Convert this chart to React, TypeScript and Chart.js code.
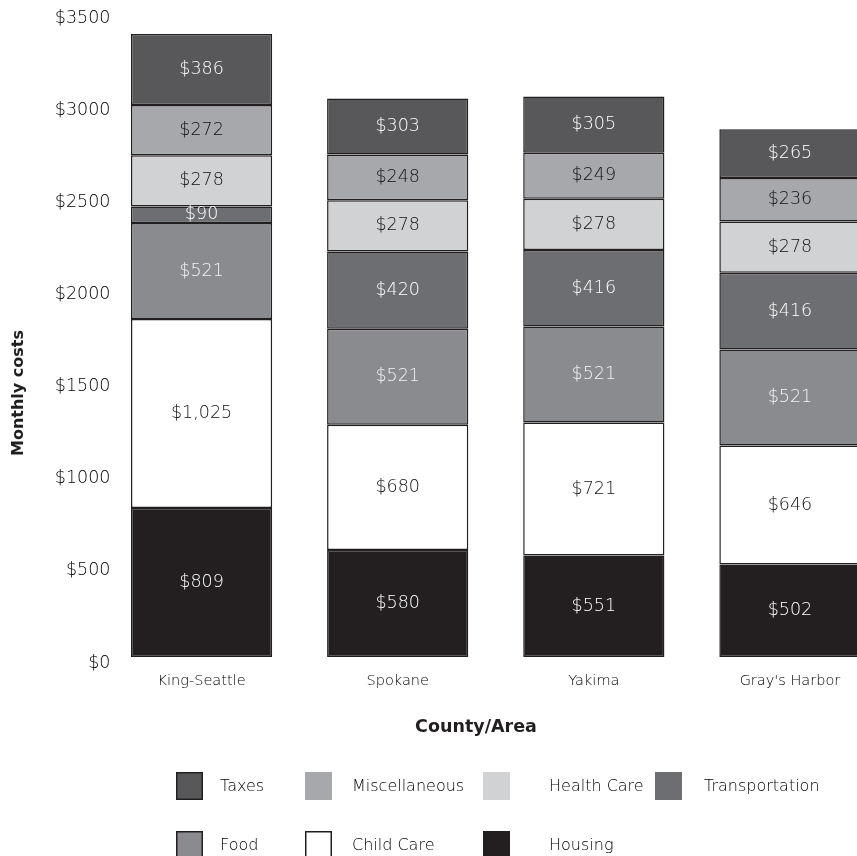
import React, { useEffect, useRef } from 'react';
import { Chart, registerables } from 'chart.js';

Chart.register(...registerables);

const categories = ['King-Seattle', 'Spokane', 'Yakima', "Gray's Harbor"];
const housing = [809, 580, 551, 502];
const childCare = [1025, 680, 721, 646];
const food = [521, 521, 521, 521];
const transportation = [90, 420, 416, 416];
const healthCare = [278, 278, 278, 278];
const miscellaneous = [272, 248, 249, 236];
const taxes = [386, 303, 305, 265];
const yMin = 0;
const yMax = 3500;
const yStep = 500;
const yTitle = 'Monthly costs';
const xTitle = 'County/Area';
const legendRow1 = ['Taxes', 'Miscellaneous', 'Health Care', 'Transportation'];
const legendRow2 = ['Food', 'Child Care', 'Housing'];

const FAMILY = '"DejaVu Sans", sans-serif';
const DARK = '#231f20';
const TEXT = '#000000';

const seriesDefs = [
  { label: 'Housing', data: housing, color: '#231f20', text: '#ffffff', legendBorder: false },
  { label: 'Child Care', data: childCare, color: '#ffffff', text: '#111111', legendBorder: true },
  { label: 'Food', data: food, color: '#8a8b8e', text: '#f4f4f5', legendBorder: true },
  { label: 'Transportation', data: transportation, color: '#6d6e71', text: '#ffffff', legendBorder: false },
  { label: 'Health Care', data: healthCare, color: '#d1d2d4', text: '#111111', legendBorder: false },
  { label: 'Miscellaneous', data: miscellaneous, color: '#a7a8ab', text: '#111111', legendBorder: false },
  { label: 'Taxes', data: taxes, color: '#58585a', text: '#ffffff', legendBorder: true },
];

export default function App() {
  const ref = useRef<HTMLCanvasElement | null>(null);

  useEffect(() => {
    if (!ref.current) return;

    const segLabels = {
      id: 'segLabels',
      afterDatasetsDraw(chart: any) {
        const ctx = chart.ctx;
        ctx.save();
        ctx.font = '200 17.5px ' + FAMILY;
        ctx.textAlign = 'center';
        ctx.textBaseline = 'middle';
        chart.data.datasets.forEach((ds: any, i: number) => {
          const meta = chart.getDatasetMeta(i);
          meta.data.forEach((el: any, j: number) => {
            const v = ds.data[j];
            const p = el.getProps(['x', 'y', 'base'], true);
            ctx.fillStyle = seriesDefs[i].text;
            ctx.fillText('$' + v.toLocaleString('en-US'), p.x, (p.y + p.base) / 2);
          });
        });
        ctx.restore();
      },
    };

    const extras = {
      id: 'extras',
      afterDraw(chart: any) {
        const ctx = chart.ctx;
        const area = chart.chartArea;
        ctx.save();
        ctx.font = 'bold 16px ' + FAMILY;
        ctx.fillStyle = DARK;
        ctx.textAlign = 'center';
        ctx.textBaseline = 'middle';
        ctx.translate(19, area.top + 381);
        ctx.rotate(-Math.PI / 2);
        ctx.fillText(yTitle, 0, 0);
        ctx.restore();

        ctx.save();
        ctx.font = 'bold 17.5px ' + FAMILY;
        ctx.fillStyle = DARK;
        ctx.textAlign = 'center';
        ctx.textBaseline = 'middle';
        ctx.fillText(xTitle, 476, area.bottom + 70);

        const boxX = [176, 305, 483, 655];
        const textX = [220, 352, 549, 704];
        const rowY = [area.bottom + 129, area.bottom + 188];
        const rows = [legendRow1, legendRow2];
        ctx.font = '200 16px ' + FAMILY;
        ctx.textAlign = 'left';
        rows.forEach((row, r) => {
          row.forEach((name, c) => {
            const def = seriesDefs.find((d) => d.label === name)!;
            const cy = rowY[r];
            ctx.fillStyle = def.color;
            ctx.fillRect(boxX[c], cy - 14, 27, 28);
            if (def.legendBorder) {
              ctx.strokeStyle = DARK;
              ctx.lineWidth = 1.5;
              ctx.strokeRect(boxX[c] + 0.75, cy - 14 + 0.75, 25.5, 26.5);
            }
            ctx.fillStyle = TEXT;
            ctx.fillText(name, textX[c], cy + 1);
          });
        });
        ctx.restore();
      },
    };

    const chart = new Chart(ref.current, {
      type: 'bar',
      data: {
        labels: categories,
        datasets: seriesDefs.map((d) => ({
          label: d.label,
          data: d.data,
          backgroundColor: d.color,
          borderColor: DARK,
          borderWidth: 1.5,
          borderSkipped: false,
          categoryPercentage: 0.8,
          barPercentage: 0.9,
        })),
      },
      options: {
        responsive: false,
        maintainAspectRatio: false,
        devicePixelRatio: 1,
        animation: false,
        layout: { padding: { top: 12, left: 0, right: 0, bottom: 0 } },
        plugins: {
          legend: { display: false },
          tooltip: { enabled: false },
          title: { display: false },
        },
        scales: {
          x: {
            stacked: true,
            grid: { display: false, drawTicks: false },
            border: { display: false },
            ticks: {
              color: TEXT,
              font: { family: FAMILY, size: 14.5, weight: '200' as any },
              padding: 16,
            },
            afterFit: (s: any) => {
              s.height = 199;
            },
          },
          y: {
            stacked: true,
            min: yMin,
            max: yMax,
            grid: { display: false, drawTicks: false },
            border: { display: false },
            ticks: {
              stepSize: yStep,
              color: TEXT,
              font: { family: FAMILY, size: 17.5, weight: '200' as any },
              padding: -7,
              labelOffset: 6,
              callback: (v: any) => '$' + v,
            },
            afterFit: (s: any) => {
              s.width = 103.5;
              s._computeLabelArea = () => undefined;
            },
          },
        },
      },
      plugins: [segLabels, extras],
    });

    return () => chart.destroy();
  }, []);

  return (
    <div
      style={{
        position: 'fixed',
        left: 0,
        top: 0,
        width: 857,
        height: 856,
        overflow: 'hidden',
        background: '#ffffff',
      }}
    >
      <canvas ref={ref} width={888} height={856} style={{ display: 'block' }} />
    </div>
  );
}
